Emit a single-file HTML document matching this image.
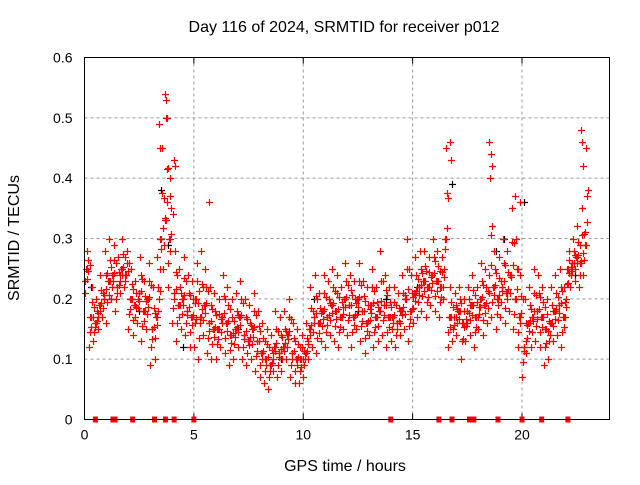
<!DOCTYPE html>
<html><head><meta charset="utf-8"><style>
body{margin:0;background:#fff;}
svg text{font-family:"Liberation Sans",sans-serif;font-size:14px;fill:#000;}
svg text.ttl{font-size:16px;}
</style></head><body>
<svg id="chart" width="640" height="480">
<rect width="640" height="480" fill="#fff"/>
<text class="ttl" x="344" y="32" text-anchor="middle">Day 116 of 2024, SRMTID for receiver p012</text>
<text class="ttl" x="345" y="471" text-anchor="middle">GPS time / hours</text>
<text class="ttl" transform="translate(19,238) rotate(-90)" text-anchor="middle">SRMTID / TECUs</text>
<g id="grid"></g><g id="ticks"></g><g id="marksBlack"></g><g id="marks"></g>
<rect x="84.5" y="57.5" width="525" height="362" fill="none" stroke="#000"/>
</svg>
<script>
const xTicks=[0,5,10,15,20];
const yTicks=[0,0.1,0.2,0.3,0.4,0.5,0.6];
const yTickLabels=["0","0.1","0.2","0.3","0.4","0.5","0.6"];
const lowVals=[0.21,0.12,0.13,0.15,0.17,0.16,0.2,0.18,0.21,0.22,0.15,0.14,0.16,0.13,0.15,0.09,0.1,0.2,0.25,0.22,0.16,0.13,0.15,0.14,0.12,0.12,0.1,0.14,0.11,0.1,0.1,0.12,0.11,0.09,0.1,0.12,0.1,0.09,0.1,0.08,0.07,0.06,0.05,0.08,0.07,0.08,0.1,0.07,0.06,0.06,0.07,0.1,0.12,0.11,0.13,0.12,0.14,0.13,0.12,0.15,0.14,0.12,0.15,0.13,0.11,0.14,0.12,0.13,0.14,0.12,0.13,0.12,0.14,0.15,0.13,0.16,0.17,0.18,0.17,0.19,0.18,0.17,0.2,0.12,0.13,0.14,0.1,0.13,0.14,0.12,0.15,0.14,0.16,0.17,0.15,0.17,0.16,0.18,0.15,0.12,0.07,0.11,0.12,0.13,0.12,0.09,0.1,0.13,0.14,0.12,0.2,0.22,0.23,0.22,0.24];
const midVals=[0.25,0.17,0.16,0.19,0.2,0.23,0.24,0.22,0.25,0.24,0.2,0.19,0.21,0.18,0.2,0.15,0.17,0.3,0.33,0.3,0.21,0.19,0.2,0.18,0.17,0.2,0.17,0.19,0.16,0.15,0.15,0.17,0.16,0.14,0.15,0.17,0.14,0.13,0.15,0.13,0.11,0.1,0.09,0.12,0.11,0.12,0.14,0.11,0.1,0.1,0.11,0.15,0.17,0.16,0.18,0.17,0.19,0.18,0.17,0.2,0.19,0.17,0.2,0.18,0.16,0.19,0.17,0.18,0.19,0.17,0.17,0.16,0.18,0.2,0.18,0.21,0.22,0.23,0.22,0.24,0.23,0.22,0.3,0.17,0.17,0.18,0.16,0.18,0.19,0.17,0.2,0.19,0.21,0.22,0.2,0.22,0.21,0.24,0.2,0.17,0.12,0.16,0.17,0.18,0.17,0.15,0.16,0.18,0.19,0.17,0.25,0.26,0.27,0.26,0.29];
const highVals=[0.28,0.22,0.2,0.24,0.28,0.3,0.29,0.27,0.3,0.28,0.25,0.23,0.27,0.23,0.26,0.22,0.27,0.45,0.5,0.4,0.28,0.25,0.27,0.24,0.23,0.26,0.28,0.25,0.22,0.21,0.2,0.24,0.22,0.2,0.21,0.23,0.2,0.19,0.21,0.18,0.16,0.15,0.14,0.18,0.17,0.18,0.2,0.16,0.15,0.14,0.16,0.22,0.24,0.21,0.24,0.23,0.25,0.24,0.22,0.26,0.24,0.23,0.26,0.23,0.22,0.25,0.22,0.28,0.24,0.22,0.22,0.21,0.24,0.3,0.24,0.27,0.28,0.28,0.27,0.3,0.28,0.27,0.45,0.22,0.21,0.22,0.2,0.22,0.24,0.22,0.26,0.25,0.4,0.28,0.27,0.3,0.28,0.35,0.3,0.24,0.2,0.22,0.25,0.24,0.22,0.2,0.22,0.24,0.25,0.22,0.28,0.3,0.32,0.35,0.45];
const spikeHours=[3.4,3.45,3.7,3.72,3.75,3.9,4.1,4.15,5.7,16.7,16.75,18.5,18.6,18.65,19.7,19.9,22.7,22.75,22.8];
const spikeVals=[0.49,0.45,0.54,0.53,0.5,0.37,0.43,0.42,0.36,0.46,0.43,0.46,0.44,0.42,0.37,0.36,0.48,0.46,0.42];
const blackHours=[0.3,1.2,2.5,3.5,3.8,4.5,7.0,9.0,10.5,12.5,13.8,15.2,16.8,18.8,19.2,20.1,21.5,22.4];
const blackVals=[0.22,0.2,0.18,0.38,0.29,0.12,0.15,0.1,0.2,0.18,0.2,0.22,0.39,0.28,0.3,0.36,0.18,0.24];
const zeroHours=[0.5,1.3,1.4,2.2,3.2,3.7,4.1,5.0,14.0,16.2,16.8,17.6,17.8,18.9,20.0,20.9,22.1];
const X0=84.5,X1=609.5,Y0=419.5,Y1=57.5;
const xs=h=>X0+(h/24)*(X1-X0);
const ys=v=>Y0-(v/0.6)*(Y0-Y1);
const NS="http://www.w3.org/2000/svg";
function mk(t,a,p){const e=document.createElementNS(NS,t);for(const k in a)e.setAttribute(k,a[k]);p.appendChild(e);return e;}
const grid=document.getElementById('grid'),ticks=document.getElementById('ticks'),marks=document.getElementById('marks'),marksBlack=document.getElementById('marksBlack');
xTicks.forEach(t=>{const x=xs(t);
 if(t>0){const g=mk('line',{x1:x,x2:x,y1:Y1,y2:Y0,stroke:'#999','stroke-dasharray':'3,3'},grid);
 
 }
 const tx=mk('text',{x:x,y:Y0+20,'text-anchor':'middle'},ticks);tx.textContent=t;
 
 
 mk('line',{x1:x,x2:x,y1:Y0,y2:Y0-6,stroke:'#000'},ticks);mk('line',{x1:x,x2:x,y1:Y1,y2:Y1+6,stroke:'#000'},ticks);});
yTicks.forEach((t,i)=>{const y=ys(t);
 if(t>0&&t<0.6){const g=mk('line',{x1:X0,x2:X1,y1:y,y2:y,stroke:'#999','stroke-dasharray':'3,3'},grid);
 
 }
 const tx=mk('text',{x:X0-12,y:y+5,'text-anchor':'end'},ticks);tx.textContent=yTickLabels[i];
 
 });
function plus(h,v,c,parent){const x=Math.round(xs(h))+0.5,y=Math.round(ys(v))+0.5;
 const p=mk('path',{d:'M'+(x-3.5)+','+y+'H'+(x+3.5)+'M'+x+','+(y-3.5)+'V'+(y+3.5)},parent);
 p.setAttribute('style','fill:none;stroke-width:1.2px;stroke:'+c);
 
 }
blackHours.forEach((h,i)=>plus(h,blackVals[i],'#000000',marksBlack));
const series=[[lowVals,0],[midVals,0.07],[highVals,0.13]];
series.forEach(s=>{const arr=s[0],off=s[1];arr.forEach((v,i)=>{
 const h=i*0.2+off;
 plus(h,v,'#ff0000',marks);
 plus(h+0.035,(v+midVals[i])/2,'#ff0000',marks);
 plus(h+0.1,(v+lowVals[i]+highVals[i])/3,'#ff0000',marks);});});
spikeHours.forEach((h,i)=>plus(h,spikeVals[i],'#ff0000',marks));
zeroHours.forEach(h=>{const x=xs(h);const r=mk('rect',{x:x-2.5,y:Y0-3,width:5,height:6},marks);
 r.setAttribute('style','fill:#ff0000');
 
 });
</script>
</body></html>
